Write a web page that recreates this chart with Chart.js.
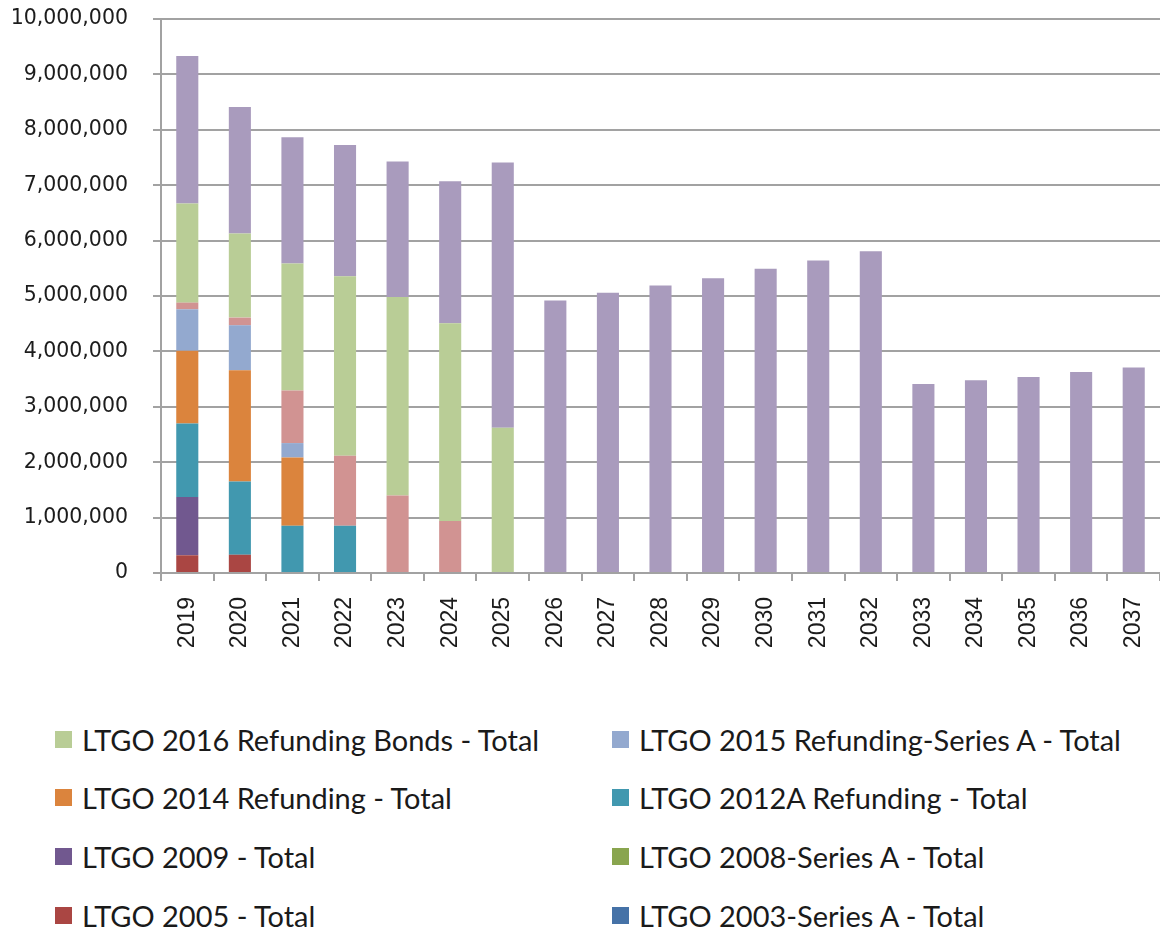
<!DOCTYPE html>
<html>
<head>
<meta charset="utf-8">
<script src="https://cdn.jsdelivr.net/npm/chart.js@4/dist/chart.umd.min.js"></script>
<style>
  html, body { margin: 0; padding: 0; background: #ffffff; }
  #wrap { position: relative; width: 1160px; height: 929px; overflow: hidden; }
  #chart { position: absolute; left: 0; top: 0; }
  .sw { position: absolute; width: 17px; height: 17px; }
  .tx { position: absolute; white-space: nowrap; line-height: 40px; height: 40px;
        font-family: Lato, "Open Sans", sans-serif; color: #1a1a1a; transform-origin: 0 50%; }
</style>
</head>
<body>
<div id="wrap">
  <canvas id="chart" width="1160" height="680"></canvas>
</div>
<script>
// ---- data ----
const years = ["2019","2020","2021","2022","2023","2024","2025","2026","2027","2028","2029","2030","2031","2032","2033","2034","2035","2036","2037"];
const yTicks = [0, 1000000, 2000000, 3000000, 4000000, 5000000, 6000000, 7000000, 8000000, 9000000, 10000000];

const ltgo2003A = [0,0,0,0,0,0,0,0,0,0,0,0,0,0,0,0,0,0,0];
const ltgo2005  = [320000,330000,0,0,0,0,0,0,0,0,0,0,0,0,0,0,0,0,0];
const ltgo2008A = [0,0,0,0,0,0,0,0,0,0,0,0,0,0,0,0,0,0,0];
const ltgo2009  = [1050000,0,0,0,0,0,0,0,0,0,0,0,0,0,0,0,0,0,0];
const ltgo2012A = [1330000,1320000,855000,855000,0,0,0,0,0,0,0,0,0,0,0,0,0,0,0];
const ltgo2014  = [1310000,2010000,1230000,0,0,0,0,0,0,0,0,0,0,0,0,0,0,0,0];
const ltgo2015A = [750000,810000,260000,0,0,0,0,0,0,0,0,0,0,0,0,0,0,0,0];
const seriesPink = [120000,140000,950000,1260000,1400000,940000,0,0,0,0,0,0,0,0,0,0,0,0,0];
const ltgo2016  = [1790000,1520000,2290000,3240000,3580000,3570000,2620000,0,0,0,0,0,0,0,0,0,0,0,0];
const seriesLavender = [2660000,2280000,2280000,2370000,2450000,2560000,4790000,4920000,5060000,5190000,5320000,5490000,5640000,5810000,3410000,3480000,3540000,3630000,3710000];

const labels = {
  l2003A: "LTGO 2003-Series A - Total",
  l2005: "LTGO 2005 - Total",
  l2008A: "LTGO 2008-Series A - Total",
  l2009: "LTGO 2009 - Total",
  l2012A: "LTGO 2012A Refunding - Total",
  l2014: "LTGO 2014 Refunding - Total",
  l2015A: "LTGO 2015 Refunding-Series A - Total",
  lPink: "Series 8",
  l2016: "LTGO 2016 Refunding Bonds - Total",
  lLav: "Series 10"
};

// stack order bottom -> top
const datasets = [
  { label: labels.l2003A, data: ltgo2003A, backgroundColor: "#4572A7", inLegend: true },
  { label: labels.l2005,  data: ltgo2005,  backgroundColor: "#AA4643", inLegend: true },
  { label: labels.l2008A, data: ltgo2008A, backgroundColor: "#89A54E", inLegend: true },
  { label: labels.l2009,  data: ltgo2009,  backgroundColor: "#71588F", inLegend: true },
  { label: labels.l2012A, data: ltgo2012A, backgroundColor: "#4198AF", inLegend: true },
  { label: labels.l2014,  data: ltgo2014,  backgroundColor: "#DB843D", inLegend: true },
  { label: labels.l2015A, data: ltgo2015A, backgroundColor: "#93A9CF", inLegend: true },
  { label: labels.lPink,  data: seriesPink, backgroundColor: "#D19392", inLegend: false },
  { label: labels.l2016,  data: ltgo2016,  backgroundColor: "#B9CD96", inLegend: true },
  { label: labels.lLav,   data: seriesLavender, backgroundColor: "#A99BBD", inLegend: false }
];

const gridColor = "#a2a2a2";

new Chart(document.getElementById("chart"), {
  type: "bar",
  data: {
    labels: years,
    datasets: datasets.map(d => ({
      label: d.label, data: d.data, backgroundColor: d.backgroundColor,
      borderWidth: 0, barPercentage: 0.42, categoryPercentage: 1.0
    }))
  },
  options: {
    responsive: false,
    animation: false,
    devicePixelRatio: 1,
    layout: { padding: { top: 19, left: 0, right: 0, bottom: 0 } },
    plugins: { legend: { display: false }, tooltip: { enabled: false } },
    scales: {
      x: {
        stacked: true,
        grid: { drawOnChartArea: false, drawTicks: true, tickLength: 8, color: gridColor, lineWidth: 2, offset: true },
        border: { color: gridColor, width: 2 },
        ticks: { minRotation: 90, maxRotation: 90, padding: 16, color: "#1c1c1c",
                 font: { family: "'Liberation Sans', Arial, sans-serif", size: 23 } },
        afterFit: s => { s.height = 680 - 573; s.paddingLeft = 0; s.paddingRight = 0; }
      },
      y: {
        stacked: true,
        min: 0, max: 10000000,
        afterBuildTicks: s => { s.ticks = yTicks.map(v => ({ value: v })); },
        grid: { color: gridColor, lineWidth: 2, tickLength: 8 },
        border: { color: gridColor, width: 2 },
        ticks: { padding: 25, color: "#1c1c1c",
                 font: { family: "'DejaVu Sans', Verdana, sans-serif", size: 20.5 },
                 callback: v => Number(v).toLocaleString("en-US") },
        afterFit: s => { s.width = 161; s.paddingTop = 0; s.paddingBottom = 0; }
      }
    }
  }
});

// ---- legend (two columns, Excel order: reverse of stack, hidden series omitted) ----
const legendItems = datasets.filter(d => d.inLegend).reverse();
const swatchX = [55, 612];
const textX = [82, 639];
const rowY = [740, 798, 857, 916];
const legendFont = "28px Lato";
const mc = document.createElement("canvas").getContext("2d");
mc.font = legendFont;
const squeeze = 458 / mc.measureText(labels.l2016).width;
const wrap = document.getElementById("wrap");
legendItems.forEach((d, i) => {
  const col = i % 2, row = Math.floor(i / 2);
  const sw = document.createElement("div");
  sw.className = "sw";
  sw.style.left = swatchX[col] + "px";
  sw.style.top = (rowY[row] - 9) + "px";
  sw.style.background = d.backgroundColor;
  const tx = document.createElement("div");
  tx.className = "tx";
  tx.style.left = textX[col] + "px";
  tx.style.top = (rowY[row] - 20) + "px";
  tx.style.font = legendFont;
  tx.style.lineHeight = "40px";
  tx.style.transform = "scaleX(" + squeeze + ")";
  tx.textContent = d.label;
  wrap.appendChild(sw); wrap.appendChild(tx);
});
</script>
</body>
</html>
